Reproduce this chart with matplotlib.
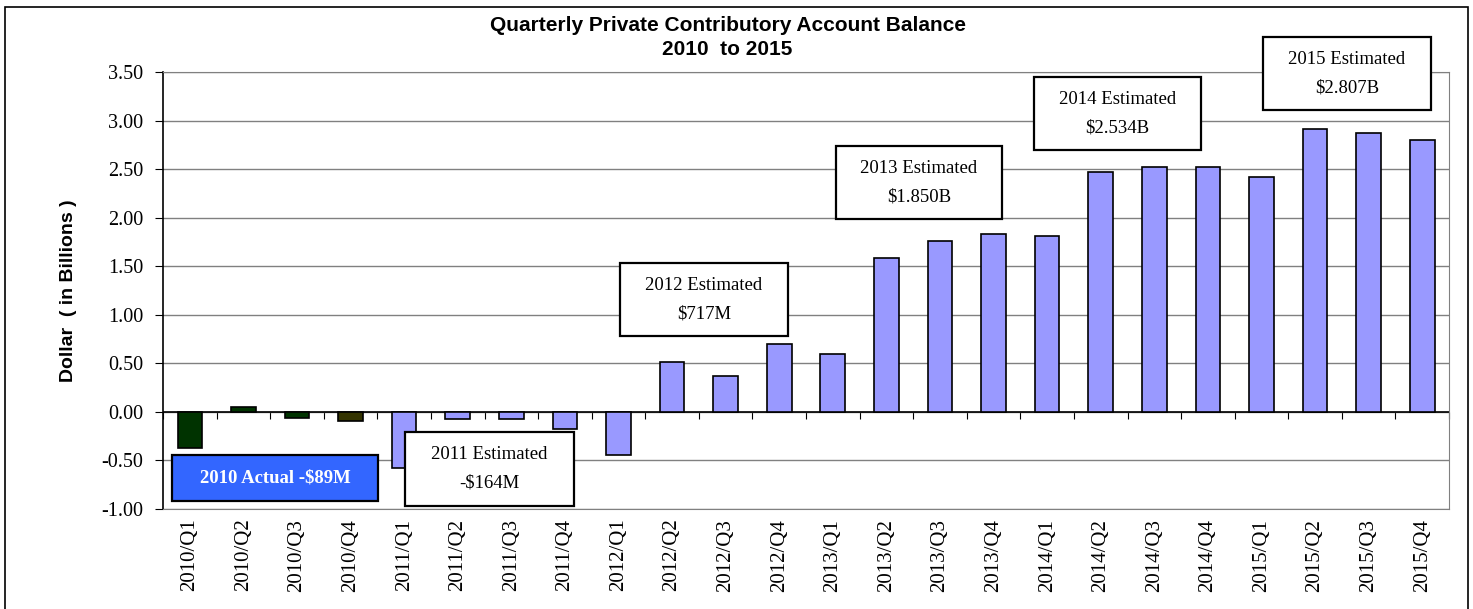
import numpy as np
import matplotlib
matplotlib.use('Agg')
import matplotlib.pyplot as plt
from matplotlib.patches import Rectangle

plt.rcParams['axes.unicode_minus'] = False

# Quarterly balance (in billions)
quarters = ['2010/Q1', '2010/Q2', '2010/Q3', '2010/Q4',
            '2011/Q1', '2011/Q2', '2011/Q3', '2011/Q4',
            '2012/Q1', '2012/Q2', '2012/Q3', '2012/Q4',
            '2013/Q1', '2013/Q2', '2013/Q3', '2013/Q4',
            '2014/Q1', '2014/Q2', '2014/Q3', '2014/Q4',
            '2015/Q1', '2015/Q2', '2015/Q3', '2015/Q4']
balance = [-0.37, 0.05, -0.06, -0.09,
           -0.58, -0.07, -0.07, -0.18,
           -0.44, 0.51, 0.37, 0.70,
           0.60, 1.58, 1.76, 1.83,
           1.81, 2.47, 2.52, 2.52,
           2.42, 2.91, 2.87, 2.80]
bar_colors = ['#003300', '#003300', '#003300', '#333300'] + ['#9999FF'] * 20

# Yearly callout labels
callout_text = ['2010 Actual -$89M',
                '2011 Estimated\n-$164M',
                '2012 Estimated\n$717M',
                '2013 Estimated\n$1.850B',
                '2014 Estimated\n$2.534B',
                '2015 Estimated\n$2.807B']
yticks = [-1.0, -0.5, 0.0, 0.5, 1.0, 1.5, 2.0, 2.5, 3.0, 3.5]

fig = plt.figure(figsize=(14.73, 6.09), dpi=100)
ax = fig.add_axes([0.1107, 0.1642, 0.8730, 0.7176])

x = np.arange(len(quarters))
ax.bar(x, balance, width=0.46, color=bar_colors, edgecolor='black',
       linewidth=1.2, zorder=3)

ax.set_xlim(-0.5, len(quarters) - 0.5)
ax.set_ylim(-1.0, 3.5)
ax.set_yticks(yticks)
ax.set_yticklabels(['%.2f' % v for v in yticks])
ax.yaxis.grid(True, color='#808080', linewidth=1, zorder=0)
ax.set_axisbelow(True)
ax.axhline(0, color='black', linewidth=1.2, zorder=2)

ax.set_xticks(x)
ax.set_xticklabels(quarters, rotation=90)
ax.tick_params(axis='x', length=0, pad=7, labelsize=15,
               labelfontfamily='Liberation Serif')
ax.tick_params(axis='y', length=6, direction='out', color='black', pad=8,
               labelsize=14.5, labelfontfamily='Liberation Serif')

for side in ['top', 'right', 'bottom']:
    ax.spines[side].set_color('#808080')
ax.spines['left'].set_color('black')
ax.spines['left'].set_linewidth(1.2)

# category boundary ticks along the zero line
zero_axis = ax.secondary_xaxis(1.0 / 4.5)
zero_axis.set_xticks(np.arange(len(quarters) + 1) - 0.5)
zero_axis.tick_params(length=5, direction='out', labelbottom=False, color='black')
zero_axis.set_xticklabels([])
zero_axis.spines['bottom'].set_visible(False)

ax.set_ylabel('Dollar  ( in Billions )', fontsize=14, fontweight='bold',
              family='Liberation Sans')
ax.yaxis.set_label_coords(-0.067, 0.5)

# callout boxes (axes fractions)
boxes = [(0.0070, 0.0183, 0.1602, 0.1053),
         (0.1882, 0.0069, 0.1314, 0.1693),
         (0.3554, 0.3959, 0.1306, 0.1670),
         (0.5233, 0.6636, 0.1291, 0.1671),
         (0.6773, 0.8215, 0.1299, 0.1671),
         (0.8554, 0.9130, 0.1306, 0.1671)]
for i, (bx, by, bw, bh) in enumerate(boxes):
    first = i == 0
    ax.add_patch(Rectangle((bx, by), bw, bh, transform=ax.transAxes,
                           facecolor='#3366FF' if first else 'white',
                           edgecolor='black', linewidth=1.6,
                           zorder=5, clip_on=False))
    ax.text(bx + bw / 2, by + bh / 2, callout_text[i], transform=ax.transAxes,
            ha='center', va='center', fontsize=13.5, linespacing=1.9,
            family='Liberation Serif',
            color='white' if first else 'black',
            fontweight='bold' if first else 'normal', zorder=6)

fig.text(0.494, 0.958, 'Quarterly Private Contributory Account Balance',
         ha='center', va='center', fontsize=15, fontweight='bold',
         family='Liberation Sans')
fig.text(0.494, 0.918, '2010  to 2015', ha='center', va='center',
         fontsize=15, fontweight='bold', family='Liberation Sans')

# outer chart frame
fig.patches.append(Rectangle((5 / 1473, -0.01), 1463 / 1473, 1 - 7 / 609 + 0.01,
                             transform=fig.transFigure, fill=False,
                             edgecolor='black', linewidth=1.2))

fig.savefig('out.png', dpi=100)
